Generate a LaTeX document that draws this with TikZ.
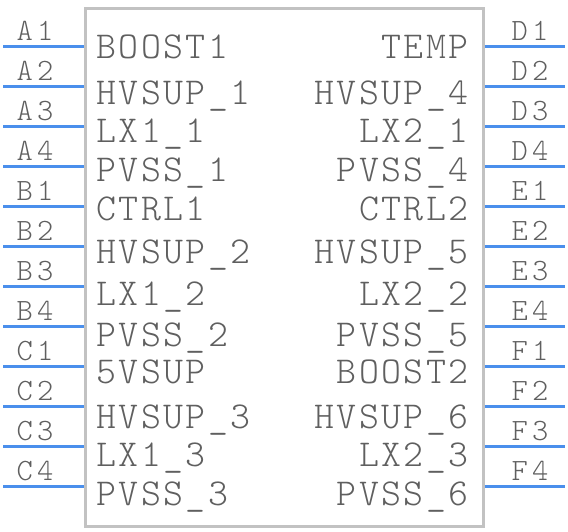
\documentclass[tikz,border=0pt]{standalone}
\usepackage{fontspec}
\newfontfamily\chipfont[LetterSpace=6.5]{Latin Modern Mono Light}
\newfontfamily\pinfont[LetterSpace=14]{Latin Modern Mono Light}
\definecolor{pinblue}{RGB}{74,143,236}
\definecolor{boxgray}{RGB}{194,194,194}
\definecolor{txtgray}{RGB}{95,95,95}
\begin{document}
\begin{tikzpicture}[x=1pt,y=-1pt,
  pin/.style={draw=pinblue, line width=3pt},
  pinlbl/.style={anchor=base, inner sep=0pt, text=txtgray, font=\pinfont\fontsize{31}{31}\selectfont},
  lbl/.style={inner sep=0pt, text=txtgray, font=\chipfont\fontsize{38}{38}\selectfont},
  chipbox/.style={draw=boxgray, line width=3pt, minimum width=398pt, minimum height=518pt, inner sep=0pt}]
\useasboundingbox (0,0) rectangle (568,532);
\node[chipbox] (chip) at (284.2,267.8) {};
\foreach \n [count=\i from 0] in {A1,A2,A3,A4,B1,B2,B3,B4,C1,C2,C3,C4} {
  \coordinate (L\i) at (3,46.5+40*\i);
  \draw[pin] (L\i) -- (L\i -| chip.west);
  \node[pinlbl] (LP\i) at (35,40.5+40*\i) {\n};
}
\foreach \n [count=\i from 0] in {D1,D2,D3,D4,E1,E2,E3,E4,F1,F2,F3,F4} {
  \coordinate (R\i) at (565,46.5+40*\i);
  \draw[pin] (R\i -| chip.east) -- (R\i);
  \node[pinlbl] (RP\i) at (530,40.5+40*\i) {\n};
}
\foreach \t/\b [count=\i] in {BOOST1/59,HVSUP\_1/105,LX1\_1/143,PVSS\_1/182,CTRL1/220,HVSUP\_2/263,LX1\_2/305,PVSS\_2/346,5VSUP/383,HVSUP\_3/428,LX1\_3/466,PVSS\_3/505} {
  \node[lbl, anchor=base west] (IL\i) at (96,\b) {\t};
}
\foreach \t/\b [count=\i] in {TEMP/59,HVSUP\_4/105,LX2\_1/143,PVSS\_4/182,CTRL2/220,HVSUP\_5/263,LX2\_2/305,PVSS\_5/346,BOOST2/383,HVSUP\_6/428,LX2\_3/466,PVSS\_6/505} {
  \node[lbl, anchor=base east] (IR\i) at (469,\b) {\t};
}
\end{tikzpicture}
\end{document}
